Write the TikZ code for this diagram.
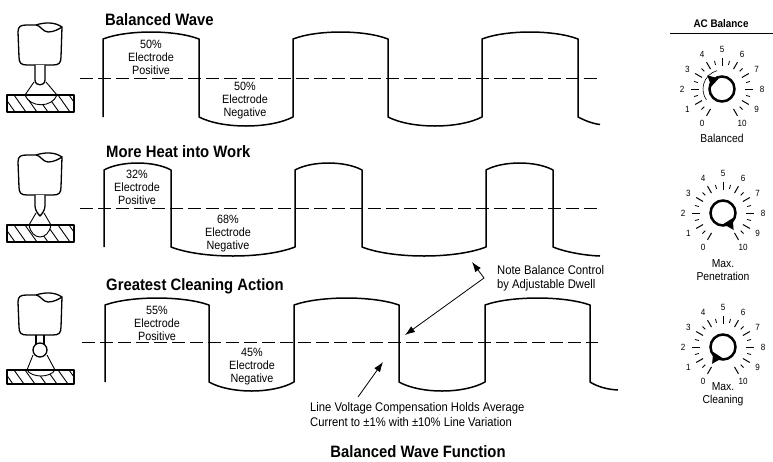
\documentclass[tikz,border=0pt]{standalone}
\usepackage{fontspec}
\newfontfamily\cond{Liberation Sans}[FakeStretch=0.9]
\usetikzlibrary{arrows.meta}

% welding torch head: broken-off cylinder with oval top
\newcommand{\torchhead}{%
  \draw[outline, fill=white] (18,32) .. controls (18,26) and (21,25) .. (27,25) -- (36,25)
     .. controls (40,25) and (43,32) .. (48,32) .. controls (54,32) and (59,29) .. (62,27)
     -- (61,57) .. controls (61,63) and (59,65) .. (53,65) -- (27,65)
     .. controls (21,65) and (19,63) .. (19,57) -- cycle;
  \draw[outline] (36,25) .. controls (45,22) and (55,22) .. (62,27);
}

% balance dial: centre x, centre y, pointer angle
\newcommand{\acdial}[3]{%
  \begin{scope}[shift={(#1,#2)}, yscale=-1]
    \foreach \nn in {0,...,10} {
      \pgfmathsetmacro{\ang}{240-30*\nn}
      \draw[tickmaj] (\ang:23) -- (\ang:31);
      \node[dialnum] at (\ang:40) {\nn};
    }
    \foreach \nn in {0,...,9} {
      \pgfmathsetmacro{\ang}{225-30*\nn}
      \draw[tickmin] (\ang:25) -- (\ang:29);
    }
    \draw[knob] (0,0) circle (12.5);
    \fill ({#3}:20) -- ({#3+30}:11) -- ({#3-30}:11) -- cycle;
  \end{scope}}

\begin{document}
\begin{tikzpicture}[x=1pt,y=-1pt,
  wave/.style={line width=1.5pt, line join=round},
  midline/.style={line width=0.9pt, dash pattern=on 13pt off 5pt},
  ttl/.style={font=\cond\bfseries\fontsize{16.5}{18}\selectfont, inner sep=0pt, anchor=base west},
  lbl/.style={font=\cond\fontsize{12}{13}\selectfont, align=center, inner sep=0pt},
  note/.style={font=\cond\fontsize{12.5}{14}\selectfont, align=left, inner sep=0pt, anchor=west},
  pointer/.style={line width=0.8pt},
  tip/.style={Latex[length=10pt,width=7pt]},
  outline/.style={line width=1.3pt, line join=round},
  hatch/.style={line width=0.9pt},
  tickmaj/.style={line width=1pt},
  tickmin/.style={line width=0.8pt},
  knob/.style={line width=2.5pt},
  dialnum/.style={font=\cond\fontsize{9}{10}\selectfont, inner sep=0pt},
  diallbl/.style={font=\cond\fontsize{11.5}{13}\selectfont, align=center, inner sep=0pt},
]
\useasboundingbox (0,0) rectangle (773,461);

% ---------- row 1: balanced wave ----------
\node[ttl] (t1) at (105,25) {Balanced Wave};
\draw[midline] (80,78) -- (600,78);
\draw[wave] (103,117) -- (103,39) .. controls (127,29.7) and (175,29.7) .. (199,39)
  -- (199,117) .. controls (222.5,129) and (269.5,129) .. (293,117)
  -- (293,39) .. controls (317,29.7) and (364,29.7) .. (388,39)
  -- (388,117) .. controls (411.5,129) and (458.5,129) .. (482,117)
  -- (482,39) .. controls (506,29.7) and (554,29.7) .. (578,39)
  -- (578,117) .. controls (586,121) and (592,123.5) .. (600,124.5);
\node[lbl] (p1) at (151,57) {50\%\\Electrode\\Positive};
\node[lbl] (n1) at (245,101) {50\%\\Electrode\\Negative};

% ---------- row 2: more heat into work ----------
\node[ttl] (t2) at (106,157) {More Heat into Work};
\draw[midline] (80,208) -- (600,208);
\draw[wave] (104,247) -- (104,170) .. controls (120.75,160.7) and (154.25,160.7) .. (171,170)
  -- (171,247) .. controls (202,259) and (264,259) .. (295,247)
  -- (295,170) .. controls (311.75,160.7) and (345.25,160.7) .. (362,170)
  -- (362,247) .. controls (393,259) and (455,259) .. (486,247)
  -- (486,170) .. controls (502.75,160.7) and (536.25,160.7) .. (553,170)
  -- (553,247) .. controls (565,252) and (585,255.5) .. (600,256);
\node[lbl] (p2) at (137,187) {32\%\\Electrode\\Positive};
\node[lbl] (n2) at (228,234) {68\%\\Electrode\\Negative};

% ---------- row 3: greatest cleaning action ----------
\node[ttl] (t3) at (106,290) {Greatest Cleaning Action};
\draw[midline] (82,342) -- (598,342);
\draw[wave] (105,382) -- (105,305) .. controls (131,295.7) and (183,295.7) .. (209,305)
  -- (209,382) .. controls (230.25,394) and (272.75,394) .. (294,382)
  -- (294,305) .. controls (320.25,295.7) and (372.75,295.7) .. (399,305)
  -- (399,382) .. controls (420.5,394) and (463.5,394) .. (485,382)
  -- (485,305) .. controls (511.25,295.7) and (563.75,295.7) .. (590,305)
  -- (590,382) .. controls (598,387) and (608,389.5) .. (618,390);
\node[lbl] (p3) at (157,323) {55\%\\Electrode\\Positive};
\node[lbl] (n3) at (252,367) {45\%\\Electrode\\Negative};

% ---------- callouts ----------
\node[note] (dwell) at (497,278) {Note Balance Control\\by Adjustable Dwell};
\coordinate (bend) at (484,278);
\coordinate (tipA) at (472,262);
\coordinate (tipB) at (405,335);
\draw[pointer, {Latex[length=10pt,width=7pt]}-{Latex[length=10pt,width=7pt]}] (tipA) -- (bend) -- (tipB);

\node[note, font=\cond\fontsize{12.5}{15}\selectfont] (comp) at (310,415)
  {Line Voltage Compensation Holds Average\\Current to ±1\% with ±10\% Line Variation};
\coordinate (compfoot) at (358,397);
\coordinate (compTip) at (383,362);
\draw[pointer, -{Latex[length=10pt,width=7pt]}] (compfoot) -- (compTip);

\node[font=\cond\bfseries\fontsize{16.5}{18}\selectfont, inner sep=0pt, anchor=base] (t4) at (418,457) {Balanced Wave Function};

% ---------- torches ----------
\begin{scope}
  \torchhead
  \draw[outline, fill=white] (35,65) -- (35,80) .. controls (35,86.5) and (45,86.5) .. (45,80) -- (45,65);
  \begin{scope}
    \clip (7,95) rectangle (74,112);
    \foreach \hx in {-8,3,...,80} \draw[hatch] (\hx,95) -- ++(12,17);
  \end{scope}
  \fill[white] (25,95) .. controls (30,108) and (52,108) .. (57,95) -- cycle;
  \draw[hatch] (25,95) .. controls (30,108) and (52,108) .. (57,95);
  \draw[outline] (7,95) rectangle (74,112);
  \draw[hatch] (34,82) -- (25,95) (46,82) -- (57,95);
\end{scope}

\begin{scope}[yshift=-130pt]
  \torchhead
  \draw[outline, fill=white] (35,65) -- (35,76) .. controls (35,80) and (38,84) .. (40,86)
     .. controls (42,84) and (45,80) .. (45,76) -- (45,65);
  \begin{scope}
    \clip (7,95) rectangle (74,112);
    \foreach \hx in {-8,3,...,80} \draw[hatch] (\hx,95) -- ++(12,17);
  \end{scope}
  \fill[white] (29,95) .. controls (32,111) and (48,111) .. (51,95) -- cycle;
  \draw[hatch] (29,95) .. controls (32,111) and (48,111) .. (51,95);
  \draw[outline] (7,95) rectangle (74,112);
  \draw[hatch] (36,83) -- (29,95) (44,83) -- (51,95);
\end{scope}

\begin{scope}[yshift=-270pt]
  \torchhead
  \draw[outline] (36,65) -- (36,74.3) (44,65) -- (44,74.3);
  \draw[outline, fill=white] (40,80) circle (7);
  \begin{scope}
    \clip (7,100) rectangle (74,114);
    \foreach \hx in {-8,3,...,80} \draw[hatch] (\hx,100) -- ++(10,14);
  \end{scope}
  \fill[white] (27,100) .. controls (32,108) and (50,108) .. (55,100) -- cycle;
  \draw[hatch] (27,100) .. controls (32,108) and (50,108) .. (55,100);
  \draw[outline] (7,100) rectangle (74,114);
  \draw[hatch] (33,85) -- (27,100) (47,85) -- (55,100);
\end{scope}

% ---------- AC balance dials ----------
\node[font=\cond\bfseries\fontsize{11}{13}\selectfont, inner sep=0pt] (acb) at (721,24) {AC Balance};
\coordinate (ruleL) at (670,33);
\coordinate (ruleR) at (773,33);
\draw[line width=0.9pt] (ruleL) -- (ruleR);

\acdial{722}{89}{137}
\begin{scope}[shift={(722,89)}, yscale=-1]
  \draw[line width=0.6pt] (105:19) arc (105:215:19);
\end{scope}
\node[diallbl] (d1) at (722,138) {Balanced};

\acdial{723}{213}{-58}
\node[diallbl] (d2) at (723,270) {Max.\\Penetration};

\acdial{723}{347}{237}
\node[diallbl] (d3) at (723,394) {Max.\\Cleaning};

\end{tikzpicture}
\end{document}
